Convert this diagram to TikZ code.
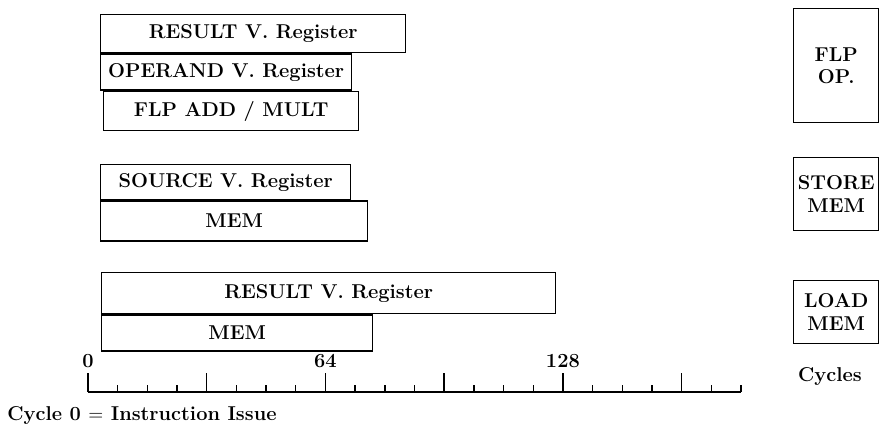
\documentclass[tikz,border=0pt]{standalone}
\usetikzlibrary{positioning, calc}
\tikzset{
	vreg/.style  ={rectangle, draw=black, line width=0.8pt, anchor=north west, inner sep=0pt, align=center, font=\fontsize{11.4}{13}\selectfont\bfseries},
	unit/.style  ={rectangle, draw=black, line width=0.8pt, anchor=north west, inner sep=0pt, align=center, font=\fontsize{11.4}{13}\selectfont\bfseries, minimum width=1.7cm},
	axislbl/.style={font=\fontsize{11.4}{13}\selectfont\bfseries, inner sep=0pt},
}
\begin{document}
\begin{tikzpicture}
\useasboundingbox (0,0) rectangle (17.62,8.66);
% FLP operation
\node[vreg, minimum width=6.1cm, minimum height=0.76cm] (fres) at (2.00,8.38) {RESULT V. Register};
\node[vreg, minimum width=5.02cm, minimum height=0.72cm] (fopd) at (fres.south west) {OPERAND V. Register};
\node[vreg, minimum width=5.1cm, minimum height=0.78cm] (fadd) at ($(fopd.south west)+(0.06,0)$) {FLP ADD / MULT};
% store
\node[vreg, minimum width=5.0cm, minimum height=0.70cm] (ssrc) at (2.00,5.38) {SOURCE V. Register};
\node[vreg, minimum width=5.34cm, minimum height=0.80cm] (smem) at (ssrc.south west) {MEM};
% load
\node[vreg, minimum width=9.08cm, minimum height=0.82cm] (lres) at (2.02,3.22) {RESULT V. Register};
\node[vreg, minimum width=5.42cm, minimum height=0.72cm] (lmem) at (lres.south west) {MEM};
% operation boxes
\node[unit, minimum height=2.28cm] (flp) at (15.86,8.50) {FLP\\OP.};
\node[unit, minimum height=1.46cm] (store) at (15.86,5.52) {STORE\\MEM};
\node[unit, minimum height=1.26cm] (load) at (15.86,3.06) {LOAD\\MEM};
% cycle axis
\begin{scope}[shift={(1.76,0.82)}, x=0.0742cm, line width=0.8pt]
	\coordinate (o) at (0,0);
	\coordinate (e) at (176,0);
	\draw (o) -- (e);
	\foreach \c in {0,8,...,176}{
		\pgfmathsetmacro\th{mod(\c,32)==0 ? 0.38 : 0.14}
		\draw (\c,0) -- (\c,\th);
	}
	\foreach \c in {0,64,128}
		\node[axislbl] (l\c) at (\c,0.62) {\c};
\end{scope}
\node[axislbl] (cyc) at (16.60,1.12) {Cycles};
\node[axislbl, anchor=west] (note) at (0.14,0.34) {Cycle 0 $=$ Instruction Issue};
\end{tikzpicture}
\end{document}
